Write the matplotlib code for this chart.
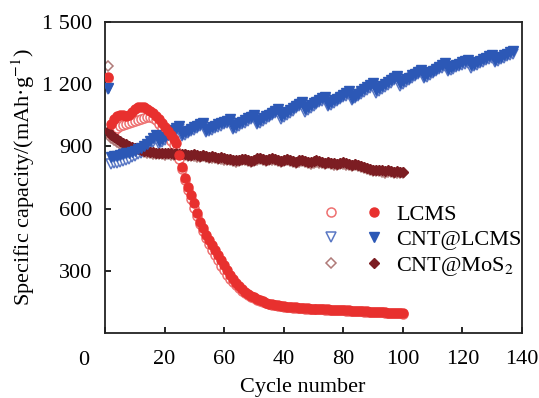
import matplotlib
matplotlib.use("Agg")
import matplotlib.pyplot as plt
from matplotlib.legend_handler import HandlerTuple

plt.rcParams['font.family'] = ['Liberation Serif', 'DejaVu Serif']
plt.rcParams['mathtext.fontset'] = 'stix'

# ---- data (cycle number -> mAh/g) ----
lcms_fill = [1235, 1010, 1030, 1045, 1050, 1050, 1045, 1050, 1065, 1080,
             1090, 1092, 1088, 1080, 1070, 1060, 1045, 1030, 1015, 995,
             975, 955, 935, 916, 860, 800, 750, 704, 665, 625,
             580, 535, 505, 475, 449, 423, 398, 375, 350, 328,
             304, 282, 260, 241, 225, 212, 200, 189, 180, 172,
             165, 158, 152, 146, 142, 139, 136, 133, 130, 128,
             126, 125, 124, 123, 122, 121, 120, 119, 118, 118,
             117, 116, 115, 115, 114, 113, 113, 112, 111, 110,
             110, 109, 108, 107, 106, 106, 105, 104, 103, 102,
             102, 101, 100, 99, 98, 98, 97, 96, 96, 95]
lcms_open = [1230, 960, 975, 990, 1000, 1005, 1010, 1015, 1020, 1022,
             1025, 1030, 1035, 1040, 1040, 1035, 1025, 1010, 990, 965,
             945, 925, 905, 880, 840, 790, 740, 690, 645, 605,
             565, 525, 490, 460, 430, 400, 375, 350, 325, 302,
             282, 262, 245, 230, 216, 204, 194, 185, 176, 168,
             161, 155, 149, 144, 140, 137, 134, 131, 128, 126,
             124, 123, 122, 121, 120, 119, 118, 117, 117, 116,
             115, 114, 114, 113, 112, 112, 111, 110, 109, 109,
             108, 107, 106, 106, 105, 104, 103, 103, 102, 101,
             100, 100, 99, 98, 97, 97, 96, 95, 95, 94]

cnt_fill = [1180, 850, 852, 855, 858, 862, 866, 870, 875, 880,
            886, 893, 902, 912, 925, 940, 955,
            925, 935, 946, 956, 967, 977, 988, 998,
            960, 968, 976, 984, 992, 1000, 1008, 1015,
            980, 986, 993, 999, 1006, 1012, 1018, 1024, 1030,
            995, 1003, 1011, 1019, 1027, 1035, 1044, 1052,
            1018, 1027, 1036, 1045, 1053, 1062, 1071, 1080,
            1045, 1055, 1065, 1075, 1085, 1095, 1105, 1115,
            1080, 1089, 1098, 1107, 1115, 1124, 1132, 1140,
            1105, 1114, 1123, 1131, 1140, 1148, 1157, 1165,
            1135, 1145, 1155, 1165, 1175, 1185, 1195, 1205,
            1170, 1180, 1190, 1200, 1210, 1220, 1230, 1240,
            1205, 1214, 1223, 1232, 1242, 1251, 1260, 1270,
            1240, 1249, 1257, 1266, 1275, 1283, 1292, 1300,
            1275, 1281, 1287, 1293, 1299, 1305, 1310, 1315,
            1292, 1299, 1306, 1313, 1320, 1327, 1334, 1340,
            1318, 1325, 1332, 1339, 1346, 1353, 1360]
cnt_open = [1175, 815, 818, 822, 826, 830, 834, 840, 847, 855,
            862, 870, 880, 892, 905, 920, 935,
            912, 922, 933, 943, 954, 964, 975, 985,
            948, 956, 964, 972, 980, 988, 996, 1003,
            968, 974, 981, 987, 994, 1000, 1006, 1012, 1018,
            983, 991, 999, 1007, 1015, 1023, 1032, 1040,
            1006, 1015, 1024, 1033, 1041, 1050, 1059, 1068,
            1033, 1043, 1053, 1063, 1073, 1083, 1093, 1103,
            1068, 1077, 1086, 1095, 1103, 1112, 1120, 1128,
            1093, 1102, 1111, 1119, 1128, 1136, 1145, 1153,
            1123, 1133, 1143, 1153, 1163, 1173, 1183, 1193,
            1158, 1168, 1178, 1188, 1198, 1208, 1218, 1228,
            1193, 1202, 1211, 1220, 1230, 1239, 1248, 1258,
            1228, 1237, 1245, 1254, 1263, 1271, 1280, 1288,
            1263, 1269, 1275, 1281, 1287, 1293, 1298, 1303,
            1280, 1287, 1294, 1301, 1308, 1315, 1322, 1328,
            1306, 1313, 1320, 1327, 1334, 1341, 1348]

mos2_fill = [975, 955, 945, 935, 925, 917, 910, 903, 897, 892,
             888, 884, 880, 877, 874, 872, 870, 869, 868, 867,
             868, 866, 864, 866, 863, 861, 864, 860, 858, 861,
             857, 856, 858, 853, 850, 852, 848, 845, 847, 842,
             838, 840, 835, 832, 836, 840, 838, 834, 830, 836,
             842, 845, 840, 835, 838, 842, 839, 834, 830, 835,
             838, 834, 830, 827, 832, 835, 830, 826, 823, 828,
             832, 828, 824, 820, 825, 822, 818, 815, 820, 823,
             818, 814, 810, 815, 812, 806, 800, 795, 792, 788,
             785, 788, 784, 780, 784, 781, 777, 780, 776, 778]
mos2_open = [1290, 940, 930, 920, 912, 905, 898, 892, 887, 882,
             878, 875, 872, 869, 867, 865, 863, 862, 861, 860,
             862, 860, 858, 860, 857, 855, 858, 854, 852, 855,
             851, 850, 852, 847, 844, 846, 842, 839, 841, 836,
             832, 834, 829, 826, 830, 834, 832, 828, 824, 830,
             836, 839, 834, 829, 832, 836, 833, 828, 824, 829,
             832, 828, 824, 821, 826, 829, 824, 820, 817, 822,
             826, 822, 818, 814, 819, 816, 812, 809, 814, 817,
             812, 808, 804, 809, 806, 800, 794, 789, 786, 782,
             779, 782, 778, 774, 778, 775, 771, 774, 770, 772]

cyc_lcms = list(range(1, len(lcms_fill) + 1))
cyc_cnt = list(range(1, len(cnt_fill) + 1))
cyc_mos2 = list(range(1, len(mos2_fill) + 1))

x_ticks = [0, 20, 40, 60, 80, 100, 120, 140]
x_labels = ['', '20', '60', '40', '80', '100', '120', '140']
y_ticks = [300, 600, 900, 1200, 1500]
y_labels = ['300', '600', '900', '1 200', '1 500']

FS = 16

fig = plt.figure(figsize=(5.39, 3.98), dpi=100)
ax = fig.add_axes([105 / 539, 1 - 333 / 398, 417 / 539, 311 / 398])

ms = 6.5
# open markers first, filled on top
o_mos2, = ax.plot(cyc_mos2, mos2_open, 'D', ls='none', ms=ms * 0.85, mfc='white',
                  mec='#b07a78', mew=1.1, zorder=2)
o_cnt, = ax.plot(cyc_cnt, cnt_open, 'v', ls='none', ms=ms, mfc='white',
                 mec='#5a78c4', mew=1.1, zorder=2)
o_lcms, = ax.plot(cyc_lcms, lcms_open, 'o', ls='none', ms=ms, mfc='white',
                  mec='#ee7070', mew=1.1, zorder=2)
f_mos2, = ax.plot(cyc_mos2, mos2_fill, 'D', ls='none', ms=ms * 0.85, color='#7c1d22',
                  zorder=3)
f_cnt, = ax.plot(cyc_cnt, cnt_fill, 'v', ls='none', ms=ms, color='#2c58b6', zorder=4)
f_lcms, = ax.plot(cyc_lcms, lcms_fill, 'o', ls='none', ms=ms, color='#e8302e', zorder=5)

ax.set_xlim(0, 140)
ax.set_ylim(0, 1500)
ax.set_xticks(x_ticks)
ax.set_xticklabels(x_labels)
ax.set_yticks(y_ticks)
ax.set_yticklabels(y_labels)
ax.tick_params(direction='in', length=4, width=1.2, labelsize=FS, pad=9)
ax.tick_params(axis='x', pad=12)
# the "0" of the x axis sits left of the spine in the original
ax.text(-7, -0.057, '0', transform=ax.get_xaxis_transform(), fontsize=FS,
        ha='center', va='top', clip_on=False)
for s in ax.spines.values():
    s.set_linewidth(1.3)
    s.set_color('#222222')

ax.set_xlabel('Cycle number', fontsize=FS)
ax.xaxis.set_label_coords(0.473, -0.145)
ax.set_ylabel('Specific capacity/(mAh·g$^{-1}$)', fontsize=FS, labelpad=4)

leg = ax.legend([(o_lcms, f_lcms), (o_cnt, f_cnt), (o_mos2, f_mos2)],
                ['LCMS', 'CNT@LCMS', 'CNT@MoS$_2$'],
                handler_map={tuple: HandlerTuple(ndivide=None, pad=1.6)},
                handlelength=2.3, handletextpad=0.8, labelspacing=0.22,
                frameon=False, fontsize=FS, borderpad=0, borderaxespad=0,
                loc='center left', bbox_to_anchor=(327 / 539, 1 - 241 / 398),
                bbox_transform=fig.transFigure, numpoints=1)

plt.savefig('out.png', dpi=100)
